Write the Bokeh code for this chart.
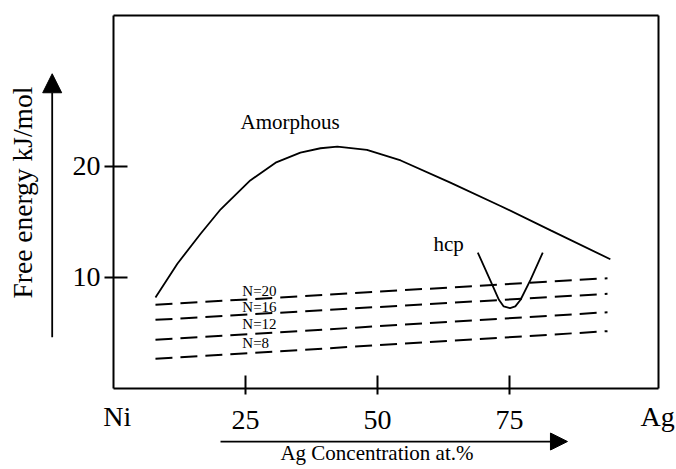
import math
from bokeh.plotting import figure
from bokeh.models import LinearAxis, FixedTicker, Range1d, Arrow, NormalHead, ColumnDataSource
from bokeh.core.properties import value
from bokeh.embed import file_html
from bokeh.resources import INLINE

# ---------------- data ----------------
x_ticks = [25, 50, 75]
y_ticks = [10, 20]
x_end_labels = ["Ni", "Ag"]

amorph_x = [7.95, 12.1, 16.5, 20.3, 25.9, 30.7, 35.4, 39.2, 42.4, 48.0, 54.4, 63.8, 73.3, 82.8, 94.1]
amorph_y = [8.15, 11.2, 13.9, 16.1, 18.7, 20.3, 21.2, 21.6, 21.75, 21.45, 20.5, 18.5, 16.4, 14.2, 11.6]

hcp_x = [69.0, 71.3, 73.0, 73.9, 75.1, 76.1, 77.1, 79.0, 81.3]
hcp_y = [12.2, 9.76, 7.95, 7.35, 7.2, 7.35, 7.95, 9.76, 12.2]

n_labels = ["N=20", "N=16", "N=12", "N=8"]
n_x = [7.95, 93.56]
n_y_start = [7.50, 6.14, 4.34, 2.63]
n_y_end = [9.89, 8.49, 6.83, 5.12]

# ---------------- layout ----------------
XMAX = 103.2   # right edge of box (Ag side)
YTOP = 33.56   # top edge of box
FONT = "Liberation Serif"

p = figure(width=676, height=469,
           x_range=Range1d(-21.40, 106.63), y_range=Range1d(-7.34, 34.91),
           output_backend="svg", toolbar_location=None,
           x_axis_type=None, y_axis_type=None, min_border=0,
           outline_line_color=None, background_fill_color="white",
           border_fill_color="white")


def style_axis(ax, size="28px"):
    ax.axis_line_color = "black"
    ax.axis_line_width = 2
    ax.major_tick_line_color = "black"
    ax.major_tick_line_width = 2
    ax.minor_tick_line_color = None
    ax.major_label_text_font = FONT
    ax.major_label_text_font_size = size
    ax.major_label_text_color = "black"


xaxis = LinearAxis(fixed_location=0, bounds=(0, XMAX), ticker=FixedTicker(ticks=x_ticks))
style_axis(xaxis)
xaxis.major_tick_in = 13
xaxis.major_tick_out = 6
xaxis.major_label_standoff = 17
p.add_layout(xaxis, "below")

yaxis = LinearAxis(fixed_location=0, bounds=(0, YTOP), ticker=FixedTicker(ticks=y_ticks))
style_axis(yaxis)
yaxis.major_tick_in = 14
yaxis.major_tick_out = 9
yaxis.major_label_standoff = 4
p.add_layout(yaxis, "left")

top_axis = LinearAxis(fixed_location=YTOP, bounds=(0, XMAX), ticker=FixedTicker(ticks=[]))
style_axis(top_axis)
p.add_layout(top_axis, "above")

right_axis = LinearAxis(fixed_location=XMAX, bounds=(0, YTOP), ticker=FixedTicker(ticks=[]))
style_axis(right_axis)
p.add_layout(right_axis, "right")

# ---------------- curves ----------------
p.line(amorph_x, amorph_y, line_color="black", line_width=1.8)
p.line(hcp_x, hcp_y, line_color="black", line_width=1.8)
for y0, y1 in zip(n_y_start, n_y_end):
    p.line(n_x, [y0, y1], line_color="black", line_width=2, line_dash="17 8")

# ---------------- texts ----------------
n_src = ColumnDataSource(dict(x=[24.4] * 4, y=[8.78, 7.28, 5.75, 4.05], t=n_labels))
p.text(x="x", y="y", text="t", source=n_src, text_font=value(FONT),
       text_font_size=value("15px"), text_color="black",
       text_align="left", text_baseline="middle")

p.text(x=[24.05], y=[24.0], text=["Amorphous"], text_font=value(FONT),
       text_font_size=value("21px"), text_color="black",
       text_align="left", text_baseline="middle")
p.text(x=[60.6], y=[12.93], text=["hcp"], text_font=value(FONT),
       text_font_size=value("21px"), text_color="black",
       text_align="left", text_baseline="middle")

# Ni / Ag end labels
p.text(x=[0.7, 106.3], y=[-2.57, -2.57], text=x_end_labels, text_font=value(FONT),
       text_font_size=value("28px"), text_color="black",
       text_align=["center", "right"], text_baseline="middle")

# axis titles
p.text(x=[-17.23], y=[17.61], text=["Free energy kJ/mol"], angle=math.pi / 2,
       text_font=value(FONT), text_font_size=value("27.5px"), text_color="black",
       text_align="center", text_baseline="middle")
p.text(x=[49.9], y=[-5.81], text=["Ag Concentration at.%"],
       text_font=value(FONT), text_font_size=value("21px"), text_color="black",
       text_align="center", text_baseline="middle")

# arrows
p.add_layout(Arrow(end=NormalHead(size=19, fill_color="black", line_color="black"),
                   x_start=-11.61, y_start=4.58, x_end=-11.61, y_end=28.31,
                   line_color="black", line_width=1.8))
p.add_layout(Arrow(end=NormalHead(size=17, fill_color="black", line_color="black"),
                   x_start=20.27, y_start=-4.82, x_end=85.98, y_end=-4.82,
                   line_color="black", line_width=1.8))

open("out.html", "w").write(file_html(p, INLINE))
